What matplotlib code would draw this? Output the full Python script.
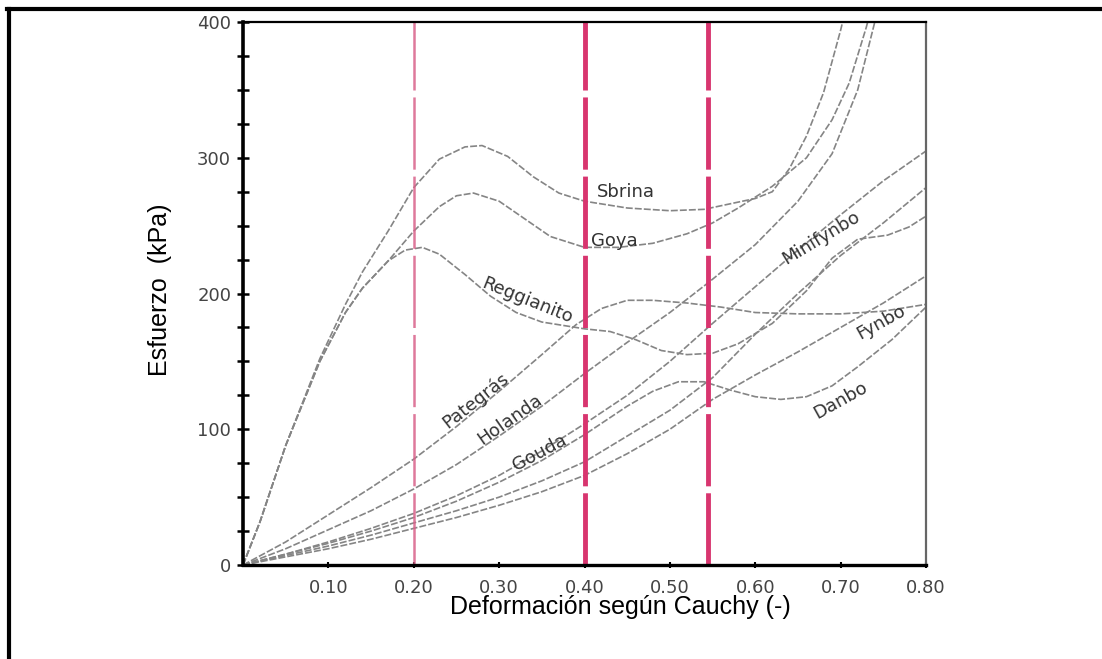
import matplotlib
matplotlib.use("Agg")
from matplotlib import pyplot as plt
from matplotlib.lines import Line2D

# stress-strain curves (strain, kPa)
sbrina_x = [0.0, 0.02, 0.05, 0.09, 0.12, 0.14, 0.17, 0.20, 0.23, 0.26, 0.28, 0.31, 0.34, 0.37, 0.40, 0.45, 0.50, 0.54, 0.57, 0.60, 0.62, 0.64, 0.66, 0.68, 0.70, 0.71]
sbrina_y = [0, 32, 88, 152, 192, 216, 246, 278, 299, 308, 309, 301, 286, 274, 268, 263, 261, 262, 266, 270, 275, 292, 316, 348, 394, 420]

goya_x = [0.0, 0.02, 0.05, 0.09, 0.12, 0.14, 0.17, 0.20, 0.23, 0.25, 0.27, 0.30, 0.33, 0.36, 0.40, 0.44, 0.48, 0.52, 0.55, 0.58, 0.62, 0.66, 0.69, 0.71, 0.73, 0.74]
goya_y = [0, 32, 88, 150, 186, 204, 224, 246, 264, 272, 274, 268, 255, 242, 234, 234, 237, 244, 252, 263, 279, 300, 328, 355, 396, 420]

reggianito_x = [0.0, 0.02, 0.05, 0.09, 0.12, 0.14, 0.17, 0.19, 0.21, 0.23, 0.26, 0.29, 0.32, 0.35, 0.38, 0.40, 0.43, 0.46, 0.49, 0.52, 0.55, 0.58, 0.62, 0.66, 0.69, 0.72, 0.755, 0.78, 0.80]
reggianito_y = [0, 32, 88, 150, 186, 204, 224, 232, 234, 229, 214, 198, 186, 179, 176, 174, 172, 166, 158, 155, 156, 163, 178, 202, 226, 240, 243, 249, 257]

pategras_x = [0.0, 0.05, 0.10, 0.15, 0.20, 0.25, 0.30, 0.35, 0.39, 0.42, 0.45, 0.48, 0.52, 0.56, 0.60, 0.65, 0.70, 0.75, 0.80]
pategras_y = [0, 17, 37, 57, 78, 102, 128, 155, 177, 189, 195, 195, 193, 190, 186, 185, 185, 187, 192]

holanda_x = [0.0, 0.05, 0.10, 0.15, 0.20, 0.25, 0.30, 0.35, 0.40, 0.45, 0.50, 0.545, 0.60, 0.65, 0.69, 0.72, 0.74]
holanda_y = [0, 12, 26, 40, 56, 74, 95, 117, 141, 164, 186, 208, 236, 268, 303, 350, 400]

soft_x = [0.0, 0.05, 0.10, 0.15, 0.20, 0.25, 0.30, 0.35, 0.40, 0.45, 0.50, 0.55, 0.60, 0.65, 0.70, 0.75, 0.80]
gouda_y = [0, 8, 17, 27, 38, 51, 66, 84, 104, 125, 150, 178, 205, 232, 258, 283, 305]
minifynbo_y = [0, 7, 14, 22, 31, 40, 50, 62, 76, 95, 114, 138, 170, 200, 228, 252, 278]
fynbo_y = [0, 6, 12, 19, 27, 35, 44, 54, 66, 82, 100, 122, 140, 157, 175, 193, 213]

danbo_x = [0.0, 0.05, 0.10, 0.15, 0.20, 0.25, 0.30, 0.35, 0.40, 0.45, 0.48, 0.51, 0.54, 0.57, 0.60, 0.63, 0.66, 0.69, 0.72, 0.76, 0.80]
danbo_y = [0, 8, 16, 25, 35, 47, 61, 77, 96, 117, 128, 135, 135, 129, 124, 122, 124, 132, 146, 166, 190]

curves = [
    (sbrina_x, sbrina_y), (goya_x, goya_y), (reggianito_x, reggianito_y),
    (pategras_x, pategras_y), (holanda_x, holanda_y), (soft_x, gouda_y),
    (soft_x, minifynbo_y), (soft_x, fynbo_y), (danbo_x, danbo_y),
]

# cheese names and where they sit (x, y, rotation)
names = ["Sbrina", "Goya", "Reggianito", "Pategrás", "Holanda", "Gouda", "Minifynbo", "Fynbo", "Danbo"]
name_x = [0.449, 0.435, 0.333, 0.272, 0.313, 0.347, 0.677, 0.747, 0.700]
name_y = [275, 239, 195, 121, 107, 83, 241, 179, 121]
name_rot = [0, 0, -22, 38, 35, 28, 31, 29, 29]

# reference strains marked in pink
marks = [0.20, 0.40, 0.545]

plt.rcParams['font.family'] = ['DejaVu Sans']
plt.rcParams['lines.scale_dashes'] = False

fig = plt.figure(figsize=(11.02, 6.59), dpi=100)
ax = fig.add_axes([0.2205, 0.1426, 0.6198, 0.824])

for cx, cy in curves:
    ax.plot(cx, cy, color='#858585', lw=1.2, linestyle=(0, (5, 1.5)))

for m in marks:
    if m == 0.20:
        ax.axvline(m, color='#d9628a', lw=1.8, alpha=0.85, linestyle=(0, (52, 5)))
    else:
        ax.axvline(m, color='#d8356f', lw=3.5, linestyle=(0, (52, 5)))

for n, tx, ty, r in zip(names, name_x, name_y, name_rot):
    ax.text(tx, ty, n, rotation=r, ha='center', va='center', fontsize=13,
            color='#333333', rotation_mode='anchor')

ax.set_xlim(0, 0.80)
ax.set_ylim(0, 400)
ax.set_xticks([0.10, 0.20, 0.30, 0.40, 0.50, 0.60, 0.70, 0.80])
ax.set_xticklabels(["0.10", "0.20", "0.30", "0.40", "0.50", "0.60", "0.70", "0.80"])
ax.set_yticks([0, 100, 200, 300, 400])
ax.set_yticks(range(0, 401, 25), minor=True)
ax.tick_params(axis='y', which='both', direction='inout', length=9, width=1.8, labelsize=13,
               labelcolor='#444444', pad=4)
ax.tick_params(axis='x', which='major', direction='inout', length=4, width=1.5, labelsize=13,
               labelcolor='#444444', pad=8)

ax.spines['left'].set_linewidth(2.6)
ax.spines['bottom'].set_linewidth(2.4)
ax.spines['top'].set_linewidth(1.6)
ax.spines['right'].set_linewidth(1.6)
ax.spines['right'].set_color('#666666')

fig.text(0.145, 0.56, "Esfuerzo  (kPa)", rotation=90, ha='center', va='center', fontsize=18,
         family=['Liberation Sans', 'DejaVu Sans'])
fig.text(0.563, 0.079, "Deformación según Cauchy (-)", ha='center', va='center', fontsize=18,
         family=['Liberation Sans', 'DejaVu Sans'])

# frame around the figure
fig.add_artist(Line2D([0.0082, 0.0082], [0.0, 0.9856], transform=fig.transFigure, color='black', lw=3))
fig.add_artist(Line2D([0.0068, 1.0], [0.9856, 0.9856], transform=fig.transFigure, color='black', lw=3))

fig.savefig("out.png", dpi=100)
